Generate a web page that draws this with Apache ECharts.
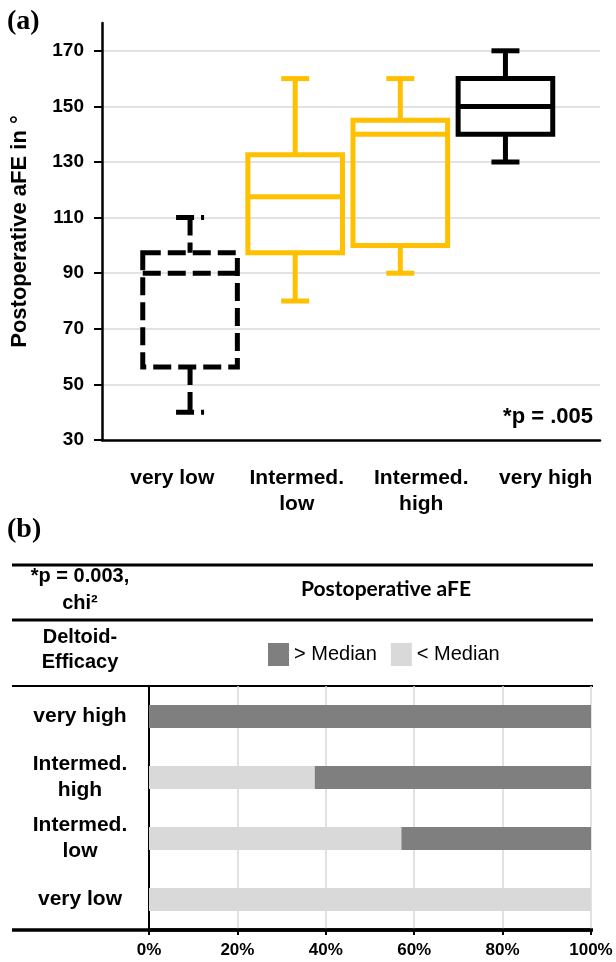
<!DOCTYPE html>
<html>
<head>
    <meta charset="utf-8">
    <title>Deltoid efficacy and postoperative aFE</title>
    <script src="https://cdn.jsdelivr.net/npm/echarts@6/dist/echarts.min.js"></script>
    <style type="text/css">
        html, body { margin: 0; padding: 0; background: #fff; }
        #main { width: 616px; height: 962px; }
    </style>
</head>
<body>
    <div id="main"></div>
    <script>
        // (a) box plot data, one entry per deltoid-efficacy group
        var boxCategories = ['very low', 'Intermed.\nlow', 'Intermed.\nhigh', 'very high'];
        var boxMin    = [40, 80, 90, 130];
        var boxQ1     = [56.3, 97.4, 100, 140];
        var boxMedian = [90, 117.5, 140, 150];
        var boxQ3     = [97.4, 132.6, 145, 160];
        var boxMax    = [110, 160, 160, 170];
        var yTicks = [30, 50, 70, 90, 110, 130, 150, 170];

        // (b) share of patients above / below the median aFE (%)
        var barCategories = ['very low', 'Intermed.\nlow', 'Intermed.\nhigh', 'very high'];
        var belowMedian = [100, 57.1, 37.5, 0];
        var aboveMedian = [0, 42.9, 62.5, 100];

        var boxColors = ['#000000', '#FFC000', '#FFC000', '#000000'];
        var boxDashed = [true, false, false, false];
        var FONT = "'Liberation Sans', Arial, sans-serif";

        var boxData = boxCategories.map(function (c, i) {
            return [i, boxMin[i], boxQ1[i], boxMedian[i], boxQ3[i], boxMax[i]];
        });

        function renderBox(params, api) {
            var i = api.value(0);
            var pMin = api.coord([i, api.value(1)]);
            var pQ1 = api.coord([i, api.value(2)]);
            var pMed = api.coord([i, api.value(3)]);
            var pQ3 = api.coord([i, api.value(4)]);
            var pMax = api.coord([i, api.value(5)]);
            var band = api.size([1, 0])[0];
            var hw = band * 0.45, cw = 14, x = pMed[0];
            var st = {
                stroke: boxColors[i], lineWidth: 5, fill: null,
                lineDash: boxDashed[i] ? [18, 7] : null
            };
            function ln(x1, y1, x2, y2) {
                return { type: 'line', shape: { x1: x1, y1: y1, x2: x2, y2: y2 }, style: st };
            }
            return {
                type: 'group',
                children: [
                    ln(x, pMax[1], x, pQ3[1]),
                    ln(x - cw, pMax[1], x + cw, pMax[1]),
                    ln(x, pQ1[1], x, pMin[1]),
                    ln(x - cw, pMin[1], x + cw, pMin[1]),
                    { type: 'rect', shape: { x: x - hw, y: pQ3[1], width: 2 * hw, height: pQ1[1] - pQ3[1] }, style: st },
                    ln(x - hw, pMed[1], x + hw, pMed[1])
                ]
            };
        }

        var myChart = echarts.init(document.getElementById('main'));
        var option = {
            animation: false,
            textStyle: { fontFamily: FONT },
            grid: [
                { left: 102, right: 16, top: 23, height: 417 },
                { left: 137.5, right: 58, top: 23, height: 417 },
                { left: 149, right: 25, top: 686, height: 244 }
            ],
            legend: {
                data: ['> Median', '< Median'],
                left: 268, top: 643, padding: 0,
                itemWidth: 21, itemHeight: 23, itemGap: 14,
                icon: 'rect',
                textStyle: { fontSize: 20, color: '#000', fontFamily: FONT }
            },
            xAxis: [
                {
                    gridIndex: 0, type: 'category', data: boxCategories,
                    axisLine: { lineStyle: { color: '#000', width: 2.5 } },
                    axisTick: { show: false },
                    axisLabel: {
                        color: '#000', fontSize: 21, fontWeight: 'bold', lineHeight: 26,
                        margin: 25, padding: [0, 0, 0, 16], interval: 0
                    }
                },
                {
                    gridIndex: 1, type: 'category', data: boxCategories,
                    show: false
                },
                {
                    gridIndex: 2, type: 'value', min: 0, max: 100, interval: 20,
                    axisLine: { show: true, lineStyle: { color: '#000', width: 3.5 } },
                    axisTick: { show: true, length: 5, lineStyle: { color: '#000', width: 2 } },
                    axisLabel: { formatter: '{value}%', color: '#000', fontSize: 17, fontWeight: 'bold', margin: 12 },
                    splitLine: { lineStyle: { color: '#d9d9d9', width: 1.5 } }
                }
            ],
            yAxis: [
                {
                    gridIndex: 0, type: 'value', min: 30, max: 180, interval: 20,
                    name: 'Postoperative aFE in °', nameLocation: 'middle', nameGap: 71,
                    nameTextStyle: { color: '#000', fontSize: 22, fontWeight: 'bold' },
                    axisLine: { show: true, lineStyle: { color: '#000', width: 2.5 } },
                    axisTick: { show: true, length: 8, customValues: yTicks, lineStyle: { color: '#000', width: 2 } },
                    axisLabel: { customValues: yTicks, color: '#000', fontSize: 19, fontWeight: 'bold', margin: 18 },
                    splitLine: { lineStyle: { color: '#d9d9d9', width: 1.5 } }
                },
                {
                    gridIndex: 1, type: 'value', min: 30, max: 180, show: false,
                    splitLine: { show: false }
                },
                {
                    gridIndex: 2, type: 'category', data: barCategories,
                    axisLine: { lineStyle: { color: '#000', width: 2 } },
                    axisTick: { show: false },
                    axisLabel: {
                        color: '#000', fontSize: 21, fontWeight: 'bold', lineHeight: 26,
                        align: 'center', margin: 69, interval: 0
                    }
                }
            ],
            series: [
                {
                    name: 'box', type: 'custom', xAxisIndex: 1, yAxisIndex: 1,
                    renderItem: renderBox,
                    encode: { x: 0, y: [1, 2, 3, 4, 5] },
                    data: boxData,
                    z: 5
                },
                {
                    name: '< Median', type: 'bar', stack: 'share', xAxisIndex: 2, yAxisIndex: 2,
                    barWidth: 23, itemStyle: { color: '#d9d9d9' }, data: belowMedian
                },
                {
                    name: '> Median', type: 'bar', stack: 'share', xAxisIndex: 2, yAxisIndex: 2,
                    barWidth: 23, itemStyle: { color: '#7f7f7f' }, data: aboveMedian
                }
            ],
            graphic: [
                { type: 'text', left: 7, top: 8, style: { text: '(a)', font: 'bold 28px "Liberation Serif", "Times New Roman", serif', fill: '#000' } },
                { type: 'text', left: 7, top: 516, style: { text: '(b)', font: 'bold 28px "Liberation Serif", "Times New Roman", serif', fill: '#000' } },
                { type: 'text', x: 593, y: 417, style: { text: '*p = .005', font: 'bold 22px ' + FONT, fill: '#000', align: 'right', verticalAlign: 'middle' } },
                { type: 'line', shape: { x1: 12, y1: 565, x2: 593, y2: 565 }, style: { stroke: '#000', lineWidth: 3 } },
                { type: 'line', shape: { x1: 12, y1: 620, x2: 593, y2: 620 }, style: { stroke: '#000', lineWidth: 3 } },
                { type: 'line', shape: { x1: 12, y1: 686, x2: 593, y2: 686 }, style: { stroke: '#000', lineWidth: 2 } },
                { type: 'line', shape: { x1: 12, y1: 930, x2: 593, y2: 930 }, style: { stroke: '#000', lineWidth: 3.5 } },
                { type: 'text', x: 80, y: 590, style: { text: '*p = 0.003,\nchi²', font: 'bold 20px ' + FONT, lineHeight: 27, fill: '#000', align: 'center', verticalAlign: 'middle' } },
                { type: 'text', x: 386, y: 589, style: { text: 'Postoperative aFE', font: 'bold 21px Lato, "Open Sans", sans-serif', fill: '#000', align: 'center', verticalAlign: 'middle' } },
                { type: 'text', x: 80, y: 650, style: { text: 'Deltoid-\nEfficacy', font: 'bold 20px ' + FONT, lineHeight: 25, fill: '#000', align: 'center', verticalAlign: 'middle' } }
            ]
        };
        myChart.setOption(option);
    </script>
</body>
</html>
